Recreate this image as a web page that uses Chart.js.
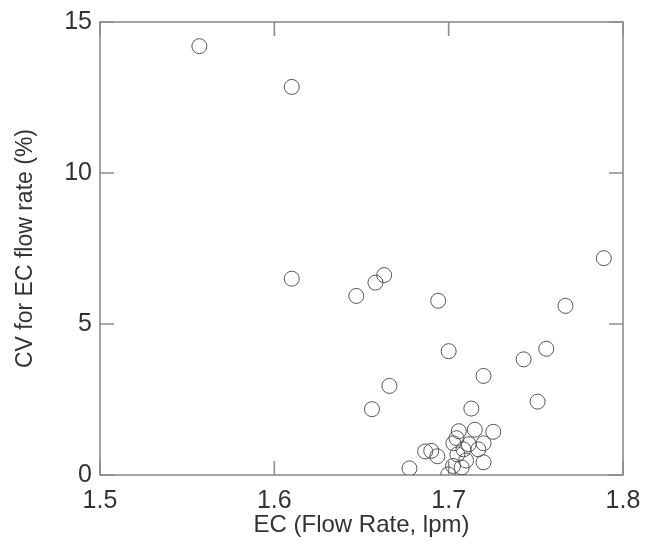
<!DOCTYPE html>
<html><head><meta charset="utf-8">
<script src="https://cdn.jsdelivr.net/npm/chart.js@4/dist/chart.umd.min.js"></script>
<style>html,body{margin:0;padding:0;background:#fff}</style>
</head><body>
<canvas id="c" width="647" height="550"></canvas>
<script>
const flowRate = [1.557, 1.610, 1.610, 1.647, 1.658, 1.663, 1.694, 1.789, 1.767, 1.700, 1.756, 1.743, 1.720, 1.713, 1.751, 1.666, 1.656,
  1.6775, 1.6865, 1.6900, 1.6935, 1.6998, 1.7025, 1.7027, 1.7045, 1.7058, 1.7050, 1.7075, 1.7100, 1.7115, 1.7150, 1.7200, 1.7200, 1.7256, 1.7085, 1.7170];
const cvPercent = [14.2, 12.85, 6.5, 5.93, 6.37, 6.62, 5.77, 7.18, 5.6, 4.1, 4.18, 3.83, 3.28, 2.2, 2.43, 2.95, 2.18,
  0.22, 0.78, 0.80, 0.62, 0.02, 0.30, 1.05, 1.22, 1.45, 0.68, 0.25, 0.48, 1.02, 1.50, 1.05, 0.42, 1.43, 0.85, 0.85];
const xTicks = [1.5, 1.6, 1.7, 1.8];
const yTicks = [0, 5, 10, 15];
const xTitle = 'EC (Flow Rate, lpm)';
const yTitle = 'CV for EC flow rate (%)';

const points = flowRate.map((x, i) => ({x: x, y: cvPercent[i]}));
const FONT = "'Liberation Sans', Arial, Helvetica, sans-serif";
const AXIS_COLOR = '#8c8c8c';
const TICK_LEN = 14;

const boxPlugin = {
  id: 'boxTicks',
  beforeDatasetsDraw(chart) {
    const {ctx, chartArea: a, scales: {x, y}} = chart;
    ctx.save();
    ctx.strokeStyle = AXIS_COLOR;
    ctx.lineWidth = 1.6;
    ctx.strokeRect(a.left, a.top, a.right - a.left, a.bottom - a.top);
    ctx.beginPath();
    xTicks.forEach(v => {
      const px = x.getPixelForValue(v);
      ctx.moveTo(px, a.bottom); ctx.lineTo(px, a.bottom - TICK_LEN);
      ctx.moveTo(px, a.top); ctx.lineTo(px, a.top + TICK_LEN);
    });
    yTicks.forEach(v => {
      const py = y.getPixelForValue(v);
      ctx.moveTo(a.left, py); ctx.lineTo(a.left + TICK_LEN, py);
      ctx.moveTo(a.right, py); ctx.lineTo(a.right - TICK_LEN, py);
    });
    ctx.stroke();
    ctx.restore();
  }
};

new Chart(document.getElementById('c'), {
  type: 'scatter',
  data: {
    datasets: [{
      data: points,
      pointStyle: 'circle',
      pointRadius: 7.5,
      pointHoverRadius: 7.5,
      borderWidth: 1,
      borderColor: '#555',
      backgroundColor: 'rgba(0,0,0,0)'
    }]
  },
  options: {
    responsive: false,
    animation: false,
    devicePixelRatio: 1,
    layout: {padding: {left: 0, right: 24, top: 22, bottom: 0}},
    plugins: {legend: {display: false}, tooltip: {enabled: false}},
    scales: {
      x: {
        type: 'linear', min: 1.5, max: 1.8,
        afterBuildTicks: s => { s.ticks = xTicks.map(v => ({value: v})); },
        afterFit: s => { s.height = 75; s.paddingLeft = 0; s.paddingRight = 0; },
        grid: {display: false, drawTicks: false},
        border: {display: false},
        ticks: {padding: 11, color: '#333', font: {family: FONT, size: 25}, callback: v => Number(v).toFixed(1)},
        title: {display: true, text: xTitle, color: '#333', font: {family: FONT, size: 24}, padding: {top: 0, bottom: 10}}
      },
      y: {
        type: 'linear', min: 0, max: 15,
        afterBuildTicks: s => { s.ticks = yTicks.map(v => ({value: v})); },
        afterFit: s => { s.width = 100; s.paddingTop = 0; s.paddingBottom = 0; },
        grid: {display: false, drawTicks: false},
        border: {display: false},
        ticks: {padding: 8, color: '#333', font: {family: FONT, size: 25}, callback: v => String(v)},
        title: {display: true, text: yTitle, color: '#333', font: {family: FONT, size: 23}, padding: {top: 12, bottom: 0}}
      }
    }
  },
  plugins: [boxPlugin]
});
</script>
</body></html>
